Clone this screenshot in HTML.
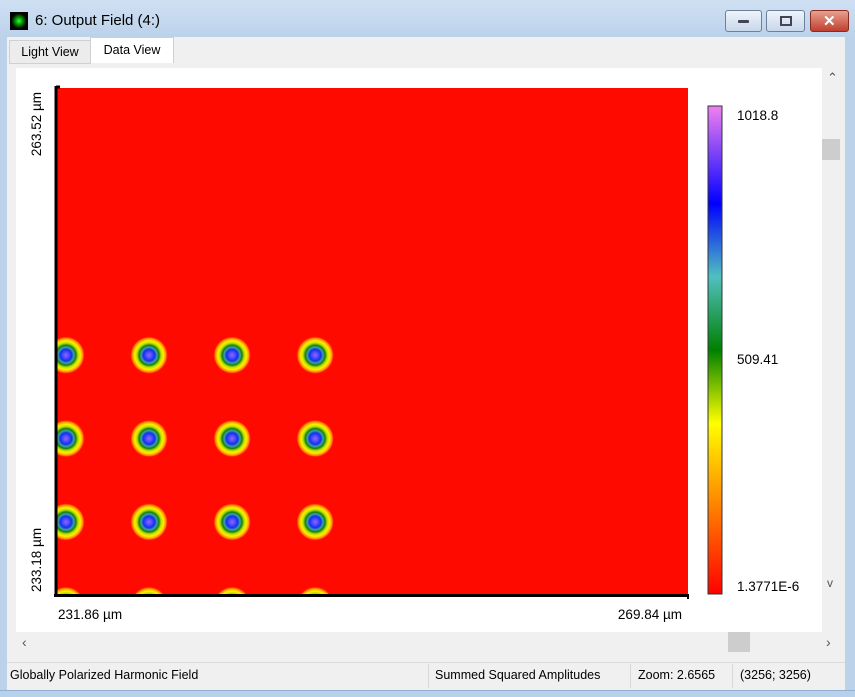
<!DOCTYPE html>
<html><head><meta charset="utf-8"><style>
body{margin:0;width:855px;height:696px;overflow:hidden;background:#bcd2ea;font-family:"Liberation Sans",sans-serif;position:relative}
.abs{position:absolute}
.btn{position:absolute;top:10px;height:20px;border:1px solid #6f7f95;border-radius:3px;background:linear-gradient(#eef4fb,#c8d7ea)}
.txt{font-size:12.5px;color:#000;white-space:nowrap}
</style></head><body>
<div class="abs" style="left:0;top:0;width:855px;height:37px;background:linear-gradient(#cfe0f3,#bcd2ea)"></div>
<div class="abs" style="left:10px;top:12px;width:18px;height:18px;background:radial-gradient(circle,#3f3 0,#070 35%,#000 60%)"></div>
<div class="abs txt" style="left:35px;top:12px;font-size:15px">6: Output Field (4:)</div>
<div class="btn" style="left:725px;width:35px"><div class="abs" style="left:12px;top:9px;width:11px;height:3px;background:#445;border-radius:1px"></div></div>
<div class="btn" style="left:766px;width:37px"><div class="abs" style="left:13px;top:5px;width:8px;height:6px;border:2px solid #445"></div></div>
<div class="btn" style="left:810px;width:37px;background:linear-gradient(#e8a090,#c04030);border-color:#8a2a20"><div class="abs" style="left:12px;top:1px;color:#fff;font-weight:bold;font-size:15px">✕</div></div>
<div class="abs" style="left:7px;top:37px;width:838px;height:625px;background:#f0f0f0"></div>
<div class="abs txt" style="left:9px;top:40px;width:80px;height:22px;background:#ececec;border:1px solid #d0d0d0;line-height:22px;text-align:center">Light View</div>
<div class="abs txt" style="left:90px;top:37px;width:82px;height:25px;background:#fff;border:1px solid #d0d0d0;border-bottom:none;line-height:24px;text-align:center">Data View</div>
<div class="abs" style="left:16px;top:68px;width:806px;height:564px;background:#fff"></div>
<div class="abs" style="left:822px;top:68px;width:18px;height:564px;background:#f0f0f0">
<div class="abs" style="left:5px;top:2px;font-size:13px;color:#555">&#8963;</div>
<div class="abs" style="left:0;top:71px;width:18px;height:21px;background:#cdcdcd"></div>
<div class="abs" style="left:5px;top:508px;font-size:12px;color:#555">v</div></div>
<div class="abs" style="left:16px;top:632px;width:824px;height:22px;background:#f0f0f0">
<div class="abs" style="left:6px;top:2px;font-size:14px;color:#555">‹</div>
<div class="abs" style="left:712px;top:0;width:22px;height:20px;background:#cdcdcd"></div>
<div class="abs" style="left:810px;top:2px;font-size:14px;color:#555">›</div></div>
<div class="abs" style="left:7px;top:662px;width:838px;height:28px;background:#f0f0f0;border-top:1px solid #dcdcdc"></div>
<div class="abs txt" style="left:10px;top:668px">Globally Polarized Harmonic Field</div>
<div class="abs" style="left:428px;top:664px;width:1px;height:24px;background:#d8d8d8"></div>
<div class="abs txt" style="left:435px;top:668px">Summed Squared Amplitudes</div>
<div class="abs" style="left:630px;top:664px;width:1px;height:24px;background:#d8d8d8"></div>
<div class="abs txt" style="left:638px;top:668px">Zoom: 2.6565</div>
<div class="abs" style="left:732px;top:664px;width:1px;height:24px;background:#d8d8d8"></div>
<div class="abs txt" style="left:740px;top:668px">(3256; 3256)</div>
<div class="abs" style="left:0;top:690px;width:855px;height:6px;background:#b8d0ea;border-top:1px solid #8fb0d0"></div>

<svg class="abs" style="left:0;top:0" width="855" height="696">
<defs>
<clipPath id="pc"><rect x="57" y="88" width="631" height="506"/></clipPath>
<radialGradient id="spot">
<stop offset="0" stop-color="#a060f0"/><stop offset="0.15" stop-color="#5050ff"/><stop offset="0.3" stop-color="#1030f0"/>
<stop offset="0.42" stop-color="#40a0a0"/><stop offset="0.52" stop-color="#108010"/><stop offset="0.64" stop-color="#c0e000"/>
<stop offset="0.76" stop-color="#ffee00"/><stop offset="0.9" stop-color="#ff8000"/><stop offset="1" stop-color="#ff0000" stop-opacity="0"/></radialGradient>
<linearGradient id="cb" x1="0" y1="1" x2="0" y2="0">
<stop offset="0" stop-color="#ff0000"/><stop offset="0.2" stop-color="#ff9000"/><stop offset="0.35" stop-color="#ffff00"/>
<stop offset="0.5" stop-color="#008000"/><stop offset="0.65" stop-color="#50c0c0"/><stop offset="0.8" stop-color="#0000ff"/>
<stop offset="1" stop-color="#f080f0"/></linearGradient>
</defs>
<rect x="57" y="88" width="631" height="506" fill="#ff0a00"/>
<g id="spots" clip-path="url(#pc)"></g>
<line x1="56" y1="86" x2="56" y2="597" stroke="#000" stroke-width="3"/>
<line x1="54" y1="595.5" x2="689" y2="595.5" stroke="#000" stroke-width="3"/>
<line x1="56" y1="87" x2="60" y2="87" stroke="#000" stroke-width="3"/>
<line x1="688" y1="594" x2="688" y2="599" stroke="#000" stroke-width="2"/>
<text x="58" y="619" font-size="13.5">231.86 µm</text>
<text x="682" y="619" font-size="13.5" text-anchor="end">269.84 µm</text>
<text transform="translate(41,92) rotate(-90)" font-size="13.5" text-anchor="end">263.52 µm</text>
<text transform="translate(41,592) rotate(-90)" font-size="13.5">233.18 µm</text>
<rect x="708" y="106" width="14" height="488" fill="url(#cb)" stroke="#333"/>
<g id="cbl" font-size="13.5"></g>
</svg>
<script>
const spotX=[232.4,237.4,242.4,247.4];
const spotY=[247.5,242.5,237.5,232.5];
const peak=1018.8;
const cbTicks=[1018.8,509.41,0.0000013771];
const cbLabels=["1018.8","509.41","1.3771E-6"];
const xr=[231.86,269.84], yr=[233.18,263.52];
const sx=v=>57+(v-xr[0])/(xr[1]-xr[0])*631;
const sy=v=>594-(v-yr[0])/(yr[1]-yr[0])*506;
const ns="http://www.w3.org/2000/svg";
const g=document.getElementById('spots');
spotY.forEach((y,i)=>spotX.forEach((x,j)=>{
 const c=document.createElementNS(ns,'circle');
 c.setAttribute('cx',sx(x));c.setAttribute('cy',sy(y));c.setAttribute('r',19*Math.sqrt(peak/1018.8));
 c.setAttribute('fill','url(#spot)');
 
 
 g.appendChild(c);
}));
const cy=v=>594-v/peak*488;
const cl=document.getElementById('cbl');
cbTicks.forEach((v,i)=>{
 const t=document.createElementNS(ns,'text');
 t.setAttribute('x',737);t.setAttribute('y',Math.min(Math.max(cy(v)+14,120),591));
 t.textContent=cbLabels[i];
 
 
 cl.appendChild(t);
});
</script>
</body></html>
